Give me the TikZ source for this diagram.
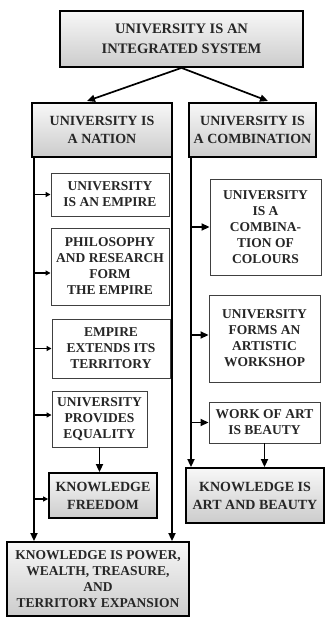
\documentclass[tikz,border=0pt]{standalone}
\usepackage{fontspec}
\setmainfont{Liberation Serif}
\usetikzlibrary{arrows.meta}
\tikzset{
  base/.style={align=center, inner sep=1pt, font=\bfseries\fontsize{13.5}{16}\selectfont, text=black!85},
  grey/.style={base, draw=black, line width=1.8pt, top color=gray!6, bottom color=gray!40},
  plain/.style={base, draw=black!75, line width=0.9pt, fill=white},
  arr/.style={line width=1.7pt, -{Triangle[length=8pt,width=7pt]}},
  sidearr/.style={line width=1.4pt, -{Triangle[length=5pt,width=5pt]}}
}
\begin{document}
\begin{tikzpicture}[x=1pt,y=-1pt]
\useasboundingbox (0,0) rectangle (325,617);
% main boxes
\node[grey, minimum width=243pt, minimum height=56pt, font=\bfseries\fontsize{14.5}{20}\selectfont] (top) at (181.5,39) {UNIVERSITY IS AN\\INTEGRATED SYSTEM};
\node[grey, minimum width=140pt, minimum height=54pt, font=\bfseries\fontsize{14}{18}\selectfont] (nation) at (102,130) {UNIVERSITY IS\\A NATION};
\node[grey, minimum width=127pt, minimum height=54pt, font=\bfseries\fontsize{14}{18}\selectfont] (comb) at (252.5,130) {UNIVERSITY IS\\A COMBINATION};
% left column
\node[plain, minimum width=118pt, minimum height=43pt] (b1) at (110,194.5) {UNIVERSITY\\IS AN EMPIRE};
\node[plain, minimum width=118pt, minimum height=77pt] (b2) at (110,266.5) {PHILOSOPHY\\AND RESEARCH\\FORM\\THE EMPIRE};
\node[plain, minimum width=118pt, minimum height=59pt] (b3) at (111,348.5) {EMPIRE\\EXTENDS ITS\\TERRITORY};
\node[plain, minimum width=95pt, minimum height=56pt] (b4) at (99.5,419) {UNIVERSITY\\PROVIDES\\EQUALITY};
\node[grey, minimum width=108pt, minimum height=45pt, font=\bfseries\fontsize{14}{18}\selectfont] (kf) at (103,495.5) {KNOWLEDGE\\FREEDOM};
\node[grey, minimum width=182pt, minimum height=74pt] (bottom) at (98,579) {KNOWLEDGE IS POWER,\\WEALTH, TREASURE,\\AND\\TERRITORY EXPANSION};
% right column
\node[plain, minimum width=111pt, minimum height=96pt] (c1) at (265.5,227) {UNIVERSITY\\IS A\\COMBINA-\\TION OF\\COLOURS};
\node[plain, minimum width=111pt, minimum height=87pt] (c2) at (264.5,338.5) {UNIVERSITY\\FORMS AN\\ARTISTIC\\WORKSHOP};
\node[plain, minimum width=111pt, minimum height=41pt] (c3) at (264.5,422.5) {WORK OF ART\\IS BEAUTY};
\node[grey, minimum width=138pt, minimum height=55pt, font=\bfseries\fontsize{14}{18}\selectfont] (art) at (255,495.5) {KNOWLEDGE IS\\ART AND BEAUTY};
% coordinates
\coordinate (na) at (87,101);
\coordinate (ca) at (268,101);
\coordinate (L) at (34,157);
\coordinate (M) at (172,157);
\coordinate (R) at (191,157);
\coordinate (b2w) at ([yshift=-6.5pt]b2.west);
\coordinate (b4w) at ([yshift=4pt]b4.west);
\coordinate (kfw) at ([yshift=-3.5pt]kf.west);
\coordinate (c2w) at ([yshift=3.5pt]c2.west);
% connectors
\draw[arr] (top.south) -- (na);
\draw[arr] (top.south) -- (ca);
\draw[arr] (L) -- (L |- bottom.north);
\draw[arr] (M) -- (M |- bottom.north);
\draw[arr] (R) -- (R |- art.north);
\draw[sidearr] (L |- b1.west) -- (b1.west);
\draw[sidearr] (L |- b2w) -- (b2w);
\draw[sidearr] (L |- b3.west) -- (b3.west);
\draw[sidearr] (L |- b4w) -- (b4w);
\draw[sidearr] (L |- kfw) -- (kfw);
\draw[arr] (R |- c1.west) -- (c1.west);
\draw[arr] (R |- c2w) -- (c2w);
\draw[arr] (R |- c3.west) -- (c3.west);
\draw[arr] (b4.south) -- (b4.south |- kf.north);
\draw[arr] (c3.south) -- (c3.south |- art.north);
\end{tikzpicture}
\end{document}
